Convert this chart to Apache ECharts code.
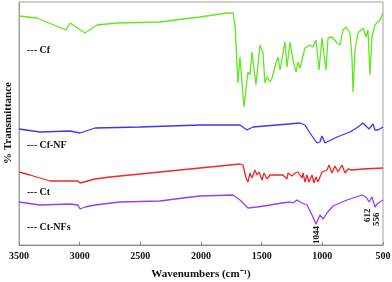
<!DOCTYPE html>
<html><head><meta charset="utf-8">
<script src="https://cdn.jsdelivr.net/npm/echarts@6/dist/echarts.min.js"></script>
<style>html,body{margin:0;padding:0;background:#fff}#c{width:392px;height:282px}</style>
</head><body><div id="c"></div>
<script>
// Wavenumber (cm-1) and transmittance (arbitrary offset units)
const cfWave = [3500,3352,3113,3080,2956,2857,2692,2338,2148,2008,1786,1753,1736,1720,1695,1679,1646,1613,1596,1580,1547,1514,1489,1473,1456,1431,1415,1382,1365,1349,1324,1308,1291,1266,1250,1242,1217,1201,1184,1143,1102,1077,1052,1027,1003,994,970,953,920,879,854,830,805,772,756,747,731,706,665,640,624,607,591,566,525,500];
const cfVal  = [229,227,215,222,212,220,222,223,226,228,232,232,232,220,162,188,138,173,170,193,160,200,192,162,168,163,167,182,188,175,192,203,178,203,203,185,173,183,177,197,200,198,205,175,207,209,175,207,208,202,200,215,218,212,188,153,195,212,217,208,215,170,208,220,225,232];

const cfnfWave = [3500,3327,3080,2997,2874,2503,2008,1679,1621,1572,1374,1184,1143,1102,1044,1019,1003,978,879,772,706,665,632,615,582,566,541,500];
const cfnfVal  = [116,113,114,112,117,118,120,120,115,118,120,122,120,112,102,103,109,102,108,113,118,122,118,116,121,115,115,118];

const ctWave = [3500,3409,3245,3080,3014,2997,2874,2750,2420,2008,1679,1654,1629,1613,1596,1580,1555,1539,1522,1497,1481,1456,1431,1324,1291,1283,1250,1225,1201,1168,1159,1143,1126,1110,1085,1069,1052,1036,1003,962,945,920,896,871,838,813,788,756,665,500];
const ctVal  = [73,70,64,64,64,62,66,68,72,77,81,80,67,63,72,67,75,70,73,65,72,66,70,70,66,72,69,72,73,67,72,63,70,63,70,62,68,63,73,75,80,72,79,73,80,72,76,75,76,77];

const ctnfWave = [3500,3327,3080,3014,2997,2956,2874,2668,2338,2148,2008,1736,1679,1613,1539,1431,1332,1266,1242,1209,1168,1126,1085,1052,1019,1003,994,962,912,797,673,640,615,591,566,541,500];
const ctnfVal  = [43,40,41,40,36,38,40,43,44,47,49,50,45,37,38,40,42,43,42,45,42,40,30,21,30,32,26,32,39,45,50,48,43,48,38,42,45];

const xTicks = [3500,3000,2500,2000,1500,1000,500];
const seriesNames = ['Cf','Cf-NF','Ct','Ct-NFs'];
const peakLabels = ['1044','612','556'];
const yTitle = '% Transmittance';

function zip(a,b){return a.map((v,i)=>[v,b[i]]);}
const F = '"Liberation Serif","Times New Roman",serif';
const chart = echarts.init(document.getElementById('c'));
const mk = (name,w,v,color)=>({name,type:'line',data:zip(w,v),showSymbol:false,symbol:'none',
  lineStyle:{color,width:1.3},itemStyle:{color},animation:false,silent:true});
const txt = (t,x,y,extra)=>Object.assign({type:'text',left:x,top:y,silent:true,
  style:{text:t,font:'bold 10px '+F,fill:'#111'}},extra||{});
chart.setOption({
  animation:false,
  grid:{left:19,right:9,top:2,bottom:37,show:true,borderColor:'#a0a0a0',borderWidth:1,outerBoundsMode:'none',containLabel:false},
  xAxis:{type:'value',inverse:true,min:500,max:3500,interval:500,
    axisLine:{show:true,lineStyle:{color:'#888',width:1}},
    axisTick:{show:true,inside:true,length:3,lineStyle:{color:'#888'}},
    splitLine:{show:false},
    axisLabel:{margin:6,color:'#111',fontFamily:F,fontWeight:'bold',fontSize:10,
      formatter:v=>xTicks.includes(v)?String(v):''},
    name:'Wavenumbers (cm\u207B\u00B9)',nameLocation:'middle',nameGap:24,
    nameTextStyle:{color:'#111',fontFamily:F,fontWeight:'bold',fontSize:11}},
  yAxis:{type:'value',min:0,max:243,axisLine:{show:true,lineStyle:{color:'#a0a0a0'}},
    axisTick:{show:false},axisLabel:{show:false},splitLine:{show:false}},
  series:[
    mk(seriesNames[0],cfWave,cfVal,'#5fe81e'),
    mk(seriesNames[1],cfnfWave,cfnfVal,'#3a3af0'),
    mk(seriesNames[2],ctWave,ctVal,'#f02828'),
    mk(seriesNames[3],ctnfWave,ctnfVal,'#9a3cf5')
  ],
  graphic:[
    {type:'text',x:8,y:123,rotation:Math.PI/2,silent:true,
      style:{text:yTitle,font:'bold 11px '+F,fill:'#111',textAlign:'center',textVerticalAlign:'middle'}},
    txt('--- '+seriesNames[0],27,45),
    txt('--- '+seriesNames[1],27,140),
    txt('--- '+seriesNames[2],27,187),
    txt('--- '+seriesNames[3],27,222),
    {type:'text',x:312,y:244,rotation:Math.PI/2,silent:true,style:{text:peakLabels[0],font:'bold 9px '+F,fill:'#111'}},
    {type:'text',x:363,y:222,rotation:Math.PI/2,silent:true,style:{text:peakLabels[1],font:'bold 9px '+F,fill:'#111'}},
    {type:'text',x:372,y:226,rotation:Math.PI/2,silent:true,style:{text:peakLabels[2],font:'bold 9px '+F,fill:'#111'}}
  ]
});
</script></body></html>
